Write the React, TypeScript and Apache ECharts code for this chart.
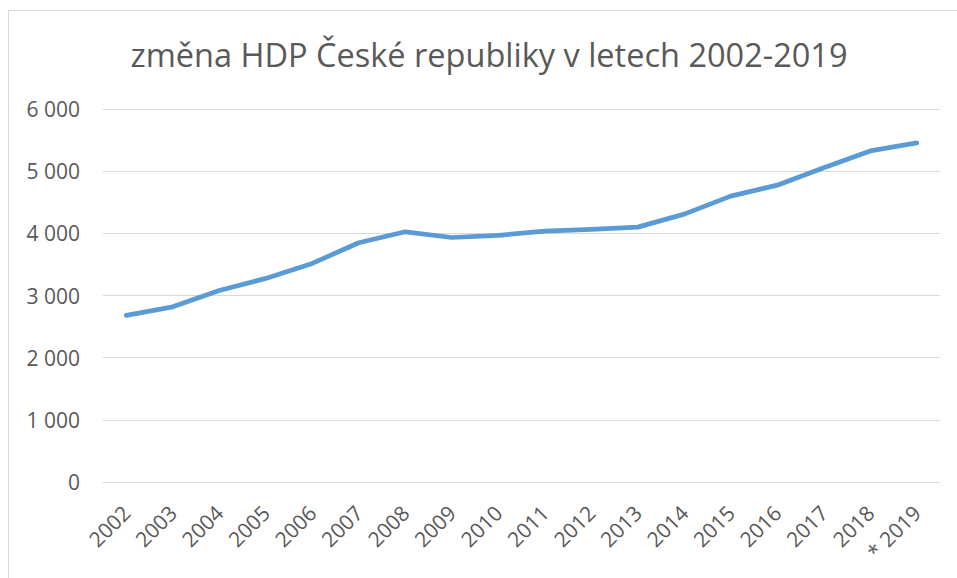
import React, { useEffect, useRef } from "react";
import * as echarts from "echarts";

const TITLE = "změna HDP České republiky v letech 2002-2019";
const YEARS = [
  "2002", "2003", "2004", "2005", "2006", "2007", "2008", "2009", "2010",
  "2011", "2012", "2013", "2014", "2015", "2016", "2017", "2018", "* 2019",
];
const GDP = [
  2680, 2818, 3080, 3275, 3516, 3848, 4025, 3933, 3968,
  4035, 4062, 4100, 4309, 4598, 4775, 5055, 5326, 5455,
];
const Y_MIN = 0;
const Y_MAX = 6000;
const Y_STEP = 1000;

const FONT = "'Open Sans', 'Noto Sans', sans-serif";
const TEXT_COLOR = "#595959";
const GRID_COLOR = "#d9d9d9";
const LINE_COLOR = "#5b9bd5";

function fmt(v: number): string {
  return String(v).replace(/\B(?=(\d{3})+(?!\d))/g, " ");
}

export default function App() {
  const ref = useRef<HTMLDivElement>(null);
  useEffect(() => {
    if (!ref.current) return;
    const chart = echarts.init(ref.current, undefined, { renderer: "svg" });
    chart.setOption({
      animation: false,
      backgroundColor: "#ffffff",
      title: {
        text: TITLE,
        left: 484,
        textAlign: "center",
        top: 33,
        textStyle: {
          fontFamily: FONT,
          fontSize: 32.5,
          fontWeight: "normal",
          color: TEXT_COLOR,
        },
      },
      graphic: [
        {
          type: "rect",
          shape: { x: 8.5, y: 10.5, width: 1100, height: 1100 },
          style: { fill: "none", stroke: GRID_COLOR, lineWidth: 1 },
          silent: true,
          z: -1,
        },
      ],
      grid: { left: 103, right: 17, top: 109, bottom: 96, containLabel: false },
      xAxis: {
        type: "category",
        data: YEARS,
        boundaryGap: true,
        axisLine: { show: true, lineStyle: { color: GRID_COLOR, width: 1 } },
        axisTick: { show: false },
        axisLabel: {
          rotate: 45,
          margin: 27,
          interval: 0,
          fontFamily: FONT,
          fontSize: 21,
          color: TEXT_COLOR,
        },
      },
      yAxis: {
        type: "value",
        min: Y_MIN,
        max: Y_MAX,
        interval: Y_STEP,
        axisLine: { show: false },
        axisTick: { show: false },
        splitLine: { show: true, lineStyle: { color: GRID_COLOR, width: 1 } },
        axisLabel: {
          margin: 23,
          fontFamily: FONT,
          fontSize: 21,
          color: TEXT_COLOR,
          formatter: (v: number) => fmt(v),
        },
      },
      series: [
        {
          type: "line",
          data: GDP,
          showSymbol: false,
          symbol: "none",
          lineStyle: { color: LINE_COLOR, width: 4.75, cap: "round", join: "round" },
          itemStyle: { color: LINE_COLOR },
        },
      ],
    });
    return () => chart.dispose();
  }, []);
  return (
    <div
      ref={ref}
      style={{ position: "fixed", left: 0, top: 0, width: 957, height: 578, background: "#fff" }}
    />
  );
}
